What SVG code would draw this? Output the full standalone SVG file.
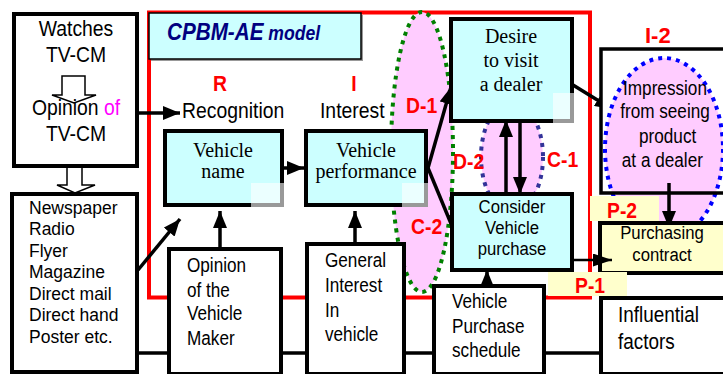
<svg xmlns="http://www.w3.org/2000/svg" width="723" height="374" viewBox="0 0 723 374">
<style>
.sans{font-family:"Liberation Sans",Arial,sans-serif;fill:#000}
.serif{font-family:"Liberation Serif","Times New Roman",serif;fill:#000}
.lab{font-family:"Liberation Sans",Arial,sans-serif;font-weight:bold;fill:#FF0000;font-size:22px}
.sq{transform-box:fill-box;transform-origin:0% 50%;transform:scaleX(.88)}
.sqc{transform-box:fill-box;transform-origin:50% 50%;transform:scaleX(.88)}
.box{fill:#fff;stroke:#000;stroke-width:4}
.cyan{fill:#CCFFFF;stroke:#000;stroke-width:4}
.yel{fill:#FFFFCC}
.shade{fill:#fff;opacity:0.6}
.ln{stroke:#000;stroke-width:3.5;fill:none}
.hollow{fill:#fff;stroke:#000;stroke-width:1.5}
</style>
<defs>
<marker id="ah" markerUnits="userSpaceOnUse" markerWidth="17" markerHeight="14" refX="17" refY="7" orient="auto">
<path d="M0,0 L17,7 L0,14 z" fill="#000"/>
</marker>
<marker id="ahs" markerUnits="userSpaceOnUse" markerWidth="19" markerHeight="13" refX="19" refY="6.5" orient="auto">
<path d="M0,0 L19,6.5 L0,13 z" fill="#000"/>
</marker>
</defs>
<rect width="723" height="374" fill="#fff"/>

<!-- red model frame -->
<rect id="frame" x="149" y="12.5" width="441" height="285" fill="none" stroke="#FF0000" stroke-width="4"/>

<!-- highlight ellipses -->
<g id="ellipses">
<ellipse cx="422" cy="152" rx="31" ry="140" fill="#FFCCFF" stroke="#008000" stroke-width="4" stroke-dasharray="4 5"/>
<ellipse cx="512" cy="157" rx="31" ry="55" fill="#FFCCFF" stroke="#333399" stroke-width="4" stroke-dasharray="4 5"/>
</g>

<!-- connectors -->
<g id="connectors">
<line class="ln" x1="70" y1="353" x2="602" y2="353"/>
<line class="ln" x1="139" y1="113" x2="180" y2="113" marker-end="url(#ah)"/>
<line class="ln" x1="283" y1="168" x2="304" y2="168" marker-end="url(#ah)"/>
<line class="ln" x1="428" y1="168" x2="451" y2="87" marker-end="url(#ah)"/>
<line class="ln" x1="428" y1="168" x2="452" y2="226"/>
<line class="ln" x1="506" y1="193" x2="506" y2="120" stroke-width="4" marker-end="url(#ah)"/>
<line class="ln" x1="520" y1="122" x2="520" y2="194" stroke-width="4" marker-end="url(#ah)"/>
<line class="ln" x1="573" y1="85" x2="612" y2="109" marker-end="url(#ah)"/>
<line class="ln" x1="138" y1="270" x2="180" y2="219" stroke-width="3" marker-end="url(#ah)"/>
<line class="ln" x1="220" y1="248" x2="220" y2="211" marker-end="url(#ah)"/>
<line class="ln" x1="355" y1="243" x2="355" y2="211" marker-end="url(#ah)"/>
<line class="ln" x1="487" y1="286" x2="487" y2="270" marker-end="url(#ah)"/>
<polygon class="hollow" points="67,167 82,167 82,185 95,185 75,193 57,185 67,185"/>
</g>

<!-- title -->
<g id="title">
<rect x="151" y="15" width="212" height="46" fill="#999"/>
<rect x="149" y="13" width="212" height="46" fill="#CCFFFF" stroke="#000" stroke-width="1.5"/>
<text class="sq" x="167" y="40" font-family="Liberation Sans,Arial,sans-serif" font-weight="bold" font-style="italic" fill="#000080"><tspan font-size="23.5">CPBM-AE</tspan><tspan font-size="20"> model</tspan></text>
</g>

<!-- Watches TV-CM -->
<g id="tvcm">
<rect class="box" x="14" y="14" width="123" height="152"/>
<polygon class="hollow" points="62,76 85,76 85,95 96,95 74,103 52,95 62,95"/>
<text class="sans sqc" font-size="22" text-anchor="middle"><tspan x="76" y="36">Watches</tspan><tspan x="76" y="62">TV-CM</tspan><tspan x="76" y="115">Opinion <tspan fill="#FF00FF">of</tspan></tspan><tspan x="76" y="141">TV-CM</tspan></text>
</g>

<!-- media list -->
<g id="media">
<rect class="box" x="12" y="194" width="125" height="178"/>
<text class="sans" font-size="17.5"><tspan x="29" y="214">Newspaper</tspan><tspan x="29" y="235">Radio</tspan><tspan x="29" y="257">Flyer</tspan><tspan x="29" y="278">Magazine</tspan><tspan x="29" y="300">Direct mail</tspan><tspan x="29" y="321">Direct hand</tspan><tspan x="29" y="343">Poster etc.</tspan></text>
</g>

<!-- stage letters -->
<g id="stages">
<text class="lab sqc" x="220" y="91" text-anchor="middle" font-size="24">R</text>
<text class="sans sq" x="182" y="118" font-size="22">Recognition</text>
<text class="lab sqc" x="354" y="91" text-anchor="middle" font-size="24">I</text>
<text class="sans sq" x="320" y="118" font-size="22">Interest</text>
</g>

<!-- Vehicle name -->
<g id="vname">
<rect class="cyan" x="165" y="131" width="117" height="74"/>
<rect class="shade" x="251" y="183" width="33" height="24"/>
<text class="serif" font-size="20" text-anchor="middle"><tspan x="223" y="157">Vehicle</tspan><tspan x="223" y="178">name</tspan></text>
</g>

<!-- Vehicle performance -->
<g id="vperf">
<rect class="cyan" x="306" y="131" width="120" height="74"/>
<rect class="shade" x="402" y="183" width="26" height="24"/>
<text class="serif" font-size="20" text-anchor="middle"><tspan x="366" y="157">Vehicle</tspan><tspan x="366" y="178">performance</tspan></text>
</g>

<!-- Desire -->
<g id="desire">
<rect class="cyan" x="451" y="19" width="121" height="102"/>
<rect class="shade" x="553" y="93" width="21" height="30"/>
<text class="serif" font-size="20" text-anchor="middle"><tspan x="511" y="43">Desire</tspan><tspan x="511" y="67">to visit</tspan><tspan x="511" y="91">a dealer</tspan></text>
</g>

<!-- Consider -->
<g id="consider">
<rect class="cyan" x="452" y="194" width="120" height="76"/>
<text class="sans sqc" font-size="19" text-anchor="middle"><tspan x="512" y="213">Consider</tspan><tspan x="512" y="234">Vehicle</tspan><tspan x="512" y="255">purchase</tspan></text>
</g>

<!-- Impression -->
<g id="impression">
<rect x="601" y="49" width="130" height="144" fill="#fff"/>
<ellipse cx="664" cy="149" rx="59" ry="91" fill="#FFCCFF" stroke="#0000FF" stroke-width="4" stroke-dasharray="4 5"/>
<rect x="601" y="49" width="130" height="144" fill="none" stroke="#000" stroke-width="3.5"/>
<text class="sans sqc" font-size="19.5" text-anchor="middle"><tspan x="665" y="95">Impression</tspan><tspan x="665" y="118">from seeing</tspan><tspan x="668" y="143">product</tspan><tspan x="662" y="167">at a dealer</tspan></text>
</g>
<line class="ln" x1="669" y1="183" x2="669" y2="228" marker-end="url(#ah)"/>

<!-- Purchasing contract -->
<g id="purchase">
<rect x="600" y="223" width="130" height="50" fill="#FFFFCC" stroke="#000" stroke-width="4"/>
<text class="sans sqc" font-size="19" text-anchor="middle"><tspan x="662" y="239">Purchasing</tspan><tspan x="662" y="261">contract</tspan></text>
</g>
<line x1="570" y1="260" x2="612" y2="260" stroke="#000" stroke-width="2.5" marker-end="url(#ahs)"/>

<!-- bottom boxes -->
<g id="maker">
<rect class="box" x="169" y="249" width="112" height="125"/>
<text class="sans sq" font-size="19.5"><tspan x="187" y="272">Opinion</tspan><tspan x="187" y="297">of the</tspan><tspan x="187" y="320">Vehicle</tspan><tspan x="187" y="345">Maker</tspan></text>
</g>
<g id="general">
<rect class="box" x="307" y="244" width="97" height="130"/>
<text class="sans sq" font-size="19.5"><tspan x="325" y="267">General</tspan><tspan x="325" y="292">Interest</tspan><tspan x="325" y="317">In</tspan><tspan x="325" y="341">vehicle</tspan></text>
</g>
<g id="schedule">
<rect class="box" x="434" y="286" width="110" height="88"/>
<text class="sans sq" font-size="19.5"><tspan x="452" y="308">Vehicle</tspan><tspan x="452" y="333">Purchase</tspan><tspan x="452" y="357">schedule</tspan></text>
</g>
<g id="influential">
<rect class="box" x="601" y="298" width="130" height="76"/>
<text class="sans sq" font-size="21.5"><tspan x="618" y="322">Influential</tspan><tspan x="618" y="349">factors</tspan></text>
</g>

<!-- group labels -->
<g id="labels">
<text class="lab sq" x="406" y="113">D-1</text>
<text class="lab sq" x="453" y="169">D-2</text>
<text class="lab sq" x="547" y="167">C-1</text>
<text class="lab sq" x="411" y="234">C-2</text>
<text class="lab" x="645" y="43" font-size="23">I-2</text>
<rect class="yel" x="590" y="196" width="69" height="25"/>
<text class="lab sq" x="607" y="218" font-size="23">P-2</text>
<rect class="yel" x="548" y="272" width="79" height="24"/>
<text class="lab sq" x="575" y="293" font-size="23">P-1</text>
</g>
</svg>
